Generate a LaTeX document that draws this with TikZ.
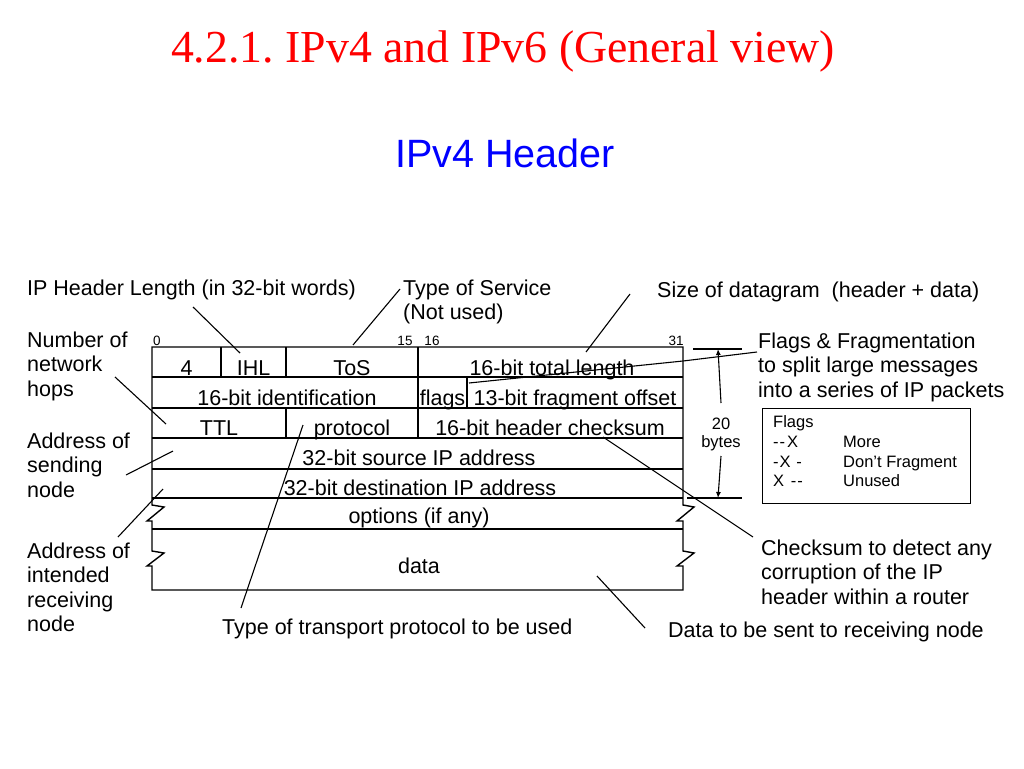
\documentclass[tikz,border=0pt]{standalone}
\usepackage{fontspec}
\setmainfont{Liberation Sans}
\newfontfamily\ttlfont{Liberation Serif}
\usetikzlibrary{arrows.meta}
\newcommand\dgfont{\fontsize{21.5}{24.5}\selectfont}
\newcommand\smfont{\fontsize{16.5}{18}\selectfont}
\newcommand\bitfont{\fontsize{13.5}{15}\selectfont}
\frenchspacing
\begin{document}
\begin{tikzpicture}[x=1pt,y=-1pt,
  frame/.style={line width=1.4pt, line join=miter},
  ptr/.style={line width=1.1pt},
  cell/.style={font=\dgfont, inner sep=0pt, anchor=base},
  lbl/.style={font=\dgfont, inner sep=0pt, anchor=base west, align=left},
  bitn/.style={font=\bitfont, inner sep=0pt, anchor=base},
  flg/.style={font=\smfont, inner sep=0pt, anchor=base west},
  dimarrow/.style={line width=1.1pt, -{Latex[length=6pt,width=5pt]}}]
\useasboundingbox[fill=white] (0,0) rectangle (1024,768);

% titles
\node[font=\ttlfont\fontsize{45.8}{52}\selectfont, text=red, inner sep=0pt, anchor=base] (title) at (503,63) {4.2.1. IPv4 and IPv6 (General view)};
\node[font=\fontsize{39.5}{48}\selectfont, text=blue, inner sep=0pt, anchor=base] (sub) at (505,167) {IPv4 Header};

% table outline with breaks
\draw[frame] (152,347) -- (152,505) -- (164,507) -- (147,521) -- (152,521) -- (152,551) -- (164,553) -- (147,566) -- (152,566) -- (152,590)
  -- (683,590) -- (683,566) -- (677,566) -- (694,553) -- (683,551) -- (683,521) -- (677,521) -- (694,507) -- (683,505) -- (683,347) -- cycle;
\foreach \yy in {377,408,438,469,498,529}
  \draw[frame] (152,\yy) -- (683,\yy);
\draw[frame] (221,347) -- (221,377);
\draw[frame] (286,347) -- (286,377);
\draw[frame] (418,347) -- (418,438);
\draw[frame] (467,377) -- (467,408);
\draw[frame] (286,408) -- (286,438);

% bit numbers
\node[bitn] (b0) at (157,345) {0};
\node[bitn] (b15) at (405,345) {15};
\node[bitn] (b16) at (432,345) {16};
\node[bitn] (b31) at (676,345) {31};

% cell texts
\node[cell] (v4) at (186.5,375) {4};
\node[cell] (ihl) at (253.5,375) {IHL};
\node[cell] (tos) at (352,375) {ToS};
\node[cell] (tlen) at (552,375) {16-bit total length};
\node[cell] (ident) at (287,405) {16-bit identification};
\node[cell] (flags) at (442.5,405) {flags};
\node[cell] (foff) at (575,405) {13-bit fragment offset};
\node[cell] (ttl) at (219,435) {TTL};
\node[cell] (proto) at (352,435) {protocol};
\node[cell] (csum) at (550,435) {16-bit header checksum};
\node[cell] (src) at (419,465) {32-bit source IP address};
\node[cell] (dst) at (420,495) {32-bit destination IP address};
\node[cell] (opts) at (419,523) {options (if any)};
\node[cell] (data) at (419,573) {data};

% 20 bytes dimension
\draw[line width=1.1pt] (693,349) -- (742,349);
\draw[line width=1.1pt] (687,498) -- (742,498);
\node[font=\smfont, inner sep=0pt, align=center] (bytes) at (721,434) {20\\bytes};
\coordinate (dtop) at (718,349);
\coordinate (dbot) at (718,498);
\draw[dimarrow] (bytes.north |- 0,403) -- (dtop);
\draw[dimarrow] (bytes.south |- 0,456) -- (dbot);

% flags box
\node[draw, line width=1.4pt, minimum width=208pt, minimum height=95pt, inner sep=0pt, anchor=north west] (fbox) at (762,408) {};
\node[flg] (fh) at (773,427) {Flags};
\node[flg] (f1) at (773,447) {-\kern1pt-\kern2pt X};
\node[flg] (f1t) at (843,447) {More};
\node[flg] (f2) at (773,467) {-\kern1pt X\kern1pt\ -};
\node[flg] (f2t) at (843,467) {Don't Fragment};
\node[flg] (f3) at (773,486) {X\kern2pt\ -\kern1pt-};
\node[flg] (f3t) at (843,486) {Unused};

% labels (anchor = baseline of the last line)
\node[lbl] (liphl) at (27,295) {IP Header Length (in 32-bit words)};
\node[lbl] (ltos) at (403,319.5) {Type of Service\\(Not used)};
\node[lbl] (lsize) at (657,297) {Size of datagram\ \ (header + data)};
\node[lbl] (lhops) at (27,396) {Number of\\network\\hops};
\node[lbl] (lsend) at (27,497) {Address of\\sending\\node};
\node[lbl] (lrecv) at (27,631.5) {Address of\\intended\\receiving\\node};
\node[lbl] (ltrans) at (222,634) {Type of transport protocol to be used};
\node[lbl] (lfrag) at (758,397) {Flags \& Fragmentation\\to split large messages\\into a series of IP packets};
\node[lbl] (lchk) at (761,604) {Checksum to detect any\\corruption of the IP\\header within a router};
\node[lbl] (ldata) at (668,637) {Data to be sent to receiving node};

% pointer lines
\coordinate (pa1) at (193,307); \coordinate (pa2) at (240,353);
\coordinate (pb1) at (400,289); \coordinate (pb2) at (353,345);
\coordinate (pc1) at (630,294); \coordinate (pc2) at (586,352);
\coordinate (pd1) at (757,352); \coordinate (pdm) at (683,361); \coordinate (pd2) at (469,383);
\coordinate (pe1) at (115,377); \coordinate (pe2) at (166,424);
\coordinate (pf1) at (126,475); \coordinate (pf2) at (173,451);
\coordinate (pg1) at (118,537); \coordinate (pg2) at (163,489);
\coordinate (ph1) at (241,608); \coordinate (ph2) at (303,425);
\coordinate (pi1) at (603,437); \coordinate (pi2) at (753,537);
\coordinate (pj1) at (645,628); \coordinate (pj2) at (597,576);
\draw[ptr] (pa1) -- (pa2);
\draw[ptr] (pb1) -- (pb2);
\draw[ptr] (pc1) -- (pc2);
\draw[ptr] (pd1) -- (pdm) -- (pd2);
\draw[ptr] (pe1) -- (pe2);
\draw[ptr] (pf1) -- (pf2);
\draw[ptr] (pg1) -- (pg2);
\draw[ptr] (ph1) -- (ph2);
\draw[ptr] (pi1) -- (pi2);
\draw[ptr] (pj1) -- (pj2);
\end{tikzpicture}
\end{document}
